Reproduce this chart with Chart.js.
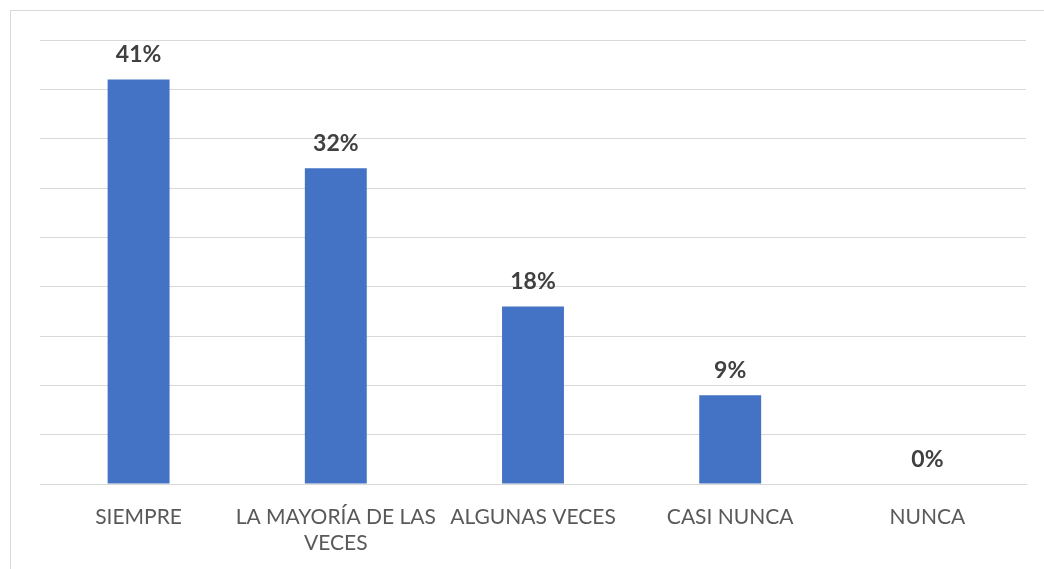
<!DOCTYPE html>
<html>
<head>
<meta charset="utf-8">
<script src="https://cdn.jsdelivr.net/npm/chart.js@4"></script>
<style>
    html, body { margin: 0; padding: 0; background: #fff; }
    #wrap { position: relative; width: 1044px; height: 569px; overflow: hidden; }
    #frame { position: absolute; left: 10px; top: 10px; width: 1100px; height: 600px;
             border-left: 1px solid #d9d9d9; border-top: 1px solid #d9d9d9; }
    canvas { position: absolute; left: 0; top: 0; }
</style>
</head>
<body>
<div id="wrap">
    <div id="frame"></div>
    <canvas id="respuestasGraphic" width="1044" height="569"></canvas>
</div>
<script>
const categories = ['SIEMPRE', ['LA MAYORÍA DE LAS', 'VECES'], 'ALGUNAS VECES', 'CASI NUNCA', 'NUNCA'];
const percentages = [41, 32, 18, 9, 0];
const yMax = 45;
const yStep = 5;

const FONT = 'Lato, "Open Sans", sans-serif';

// etiquetas de valor encima de cada barra
const barLabels = {
    id: 'barLabels',
    afterDatasetsDraw(chart) {
        const ctx = chart.ctx;
        const meta = chart.getDatasetMeta(0);
        ctx.save();
        ctx.font = 'bold 23px ' + FONT;
        ctx.fillStyle = '#404040';
        ctx.textAlign = 'center';
        ctx.textBaseline = 'alphabetic';
        meta.data.forEach((bar, i) => {
            ctx.fillText(percentages[i] + '%', bar.x, bar.y - 17);
        });
        ctx.restore();
    }
};

const config = {
    type: 'bar',
    data: {
        labels: categories,
        datasets: [{
            data: percentages,
            backgroundColor: '#4472C4',
            borderWidth: 0,
            barPercentage: 0.314,
            categoryPercentage: 1
        }]
    },
    options: {
        responsive: false,
        animation: false,
        layout: { padding: { left: 40, top: 40, right: 18, bottom: 0 } },
        plugins: {
            legend: { display: false },
            tooltip: { enabled: false }
        },
        scales: {
            x: {
                grid: { display: false },
                border: { color: '#d9d9d9', width: 1 },
                ticks: {
                    color: '#595959',
                    font: { family: FONT, size: 21 },
                    padding: 13,
                    maxRotation: 0,
                    autoSkip: false
                },
                afterFit(scale) { scale.height = 85; }
            },
            y: {
                min: 0,
                max: yMax,
                ticks: { display: false, stepSize: yStep },
                grid: { color: '#d9d9d9', lineWidth: 1, drawTicks: false },
                border: { display: false },
                afterFit(scale) { scale.width = 0; }
            }
        }
    },
    plugins: [barLabels]
};

new Chart(document.querySelector('#respuestasGraphic'), config);
</script>
</body>
</html>
